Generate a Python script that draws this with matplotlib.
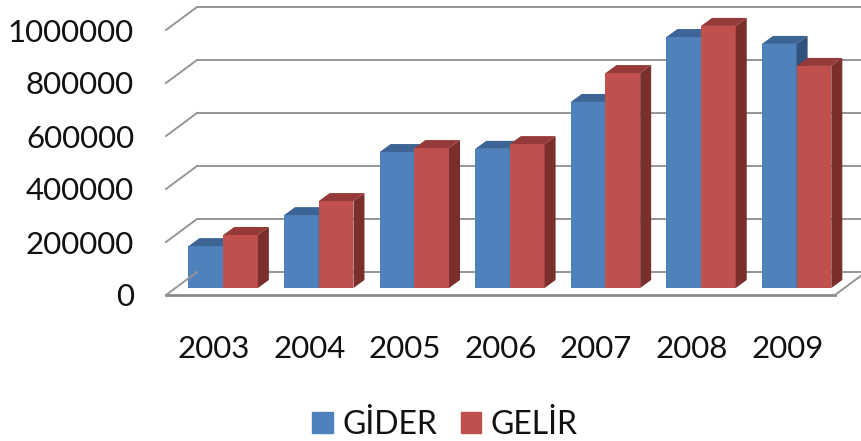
import matplotlib
matplotlib.use('Agg')
import matplotlib.pyplot as plt
from matplotlib.patches import Patch, Polygon
from matplotlib.transforms import Affine2D

years = ['2003', '2004', '2005', '2006', '2007', '2008', '2009']
gider = [158000, 275000, 513000, 525000, 702000, 947000, 921000]
gelir = [200000, 328000, 528000, 543000, 811000, 989000, 838000]
y_ticks = [0, 200000, 400000, 600000, 800000, 1000000]

plt.rcParams['font.family'] = ['Lato', 'DejaVu Sans']

W, H = 861, 441
fig = plt.figure(figsize=(W / 100, H / 100), dpi=100)
# axes = front plane of the fake 3D box, in pixels
ax = fig.add_axes([166 / W, (H - 295) / H, 669 / W, 265 / H])
ax.set_xlim(-0.5, 6.5)
ax.set_ylim(0, 1000000)

# pixel offsets going into the depth of the box
wall = ax.transData + Affine2D().translate(31, 23)
plane = ax.transData + Affine2D().translate(9.4, 7)

# gridlines: back wall plus the little diagonal on the left
for v in y_ticks:
    ax.plot([-0.5, 6.5], [v, v], transform=wall, color='#969696', lw=1.4,
            clip_on=False, zorder=1)
    x0, y0 = ax.transData.transform((-0.5, v))
    fig.add_artist(plt.Line2D([x0, x0 + 31], [y0, y0 + 23], transform=None,
                              color='#969696', lw=1.4, zorder=1))

# floor front edge and right diagonal
ax.plot([-0.5, 6.5], [0, 0], color='#8a8a8a', lw=2, clip_on=False, zorder=1)
x1, y1 = ax.transData.transform((6.5, 0))
fig.add_artist(plt.Line2D([x1, x1 + 31], [y1, y1 + 23], transform=None,
                          color='#969696', lw=1.4, zorder=1))

width = 0.363
dx = 11 / (669 / 7)
dy = 8 / 265 * 1000000


def draw_bar(x, v, front, top, side):
    ax.bar(x, v, width=width, align='edge', color=front, transform=plane,
           clip_on=False, zorder=3)
    xr = x + width
    ax.add_patch(Polygon([(x, v), (xr, v), (xr + dx, v + dy), (x + dx, v + dy)],
                         closed=True, color=top, lw=0, transform=plane,
                         clip_on=False, zorder=3))
    ax.add_patch(Polygon([(xr, 0), (xr + dx, dy), (xr + dx, v + dy), (xr, v)],
                         closed=True, color=side, lw=0, transform=plane,
                         clip_on=False, zorder=3))


for i in range(len(years)):
    draw_bar(i - width, gider[i], '#4f81bd', '#3c6494', '#31527a')
    draw_bar(i, gelir[i], '#c0504d', '#953a38', '#7a2f2d')

ax.set_xticks(range(len(years)))
ax.set_xticklabels(years)
ax.set_yticks(y_ticks)
ax.set_yticklabels([str(v) for v in y_ticks])
ax.tick_params(axis='x', length=0, pad=29, labelsize=22.5, colors='#111111')
ax.tick_params(axis='y', length=0, pad=23, labelsize=22.5, colors='#111111')
for s in ax.spines.values():
    s.set_visible(False)
ax.patch.set_visible(False)

handles = [Patch(color='#4f81bd', label='GİDER'), Patch(color='#c0504d', label='GELİR')]
fig.legend(handles=handles, loc='center', bbox_to_anchor=(445 / W, (H - 425) / H),
           ncol=2, frameon=False, fontsize=23, handlelength=0.63, handleheight=0.63,
           handletextpad=0.3, columnspacing=0.75, labelcolor='#111111',
           borderpad=0, borderaxespad=0)

fig.savefig('out.png', dpi=100)
